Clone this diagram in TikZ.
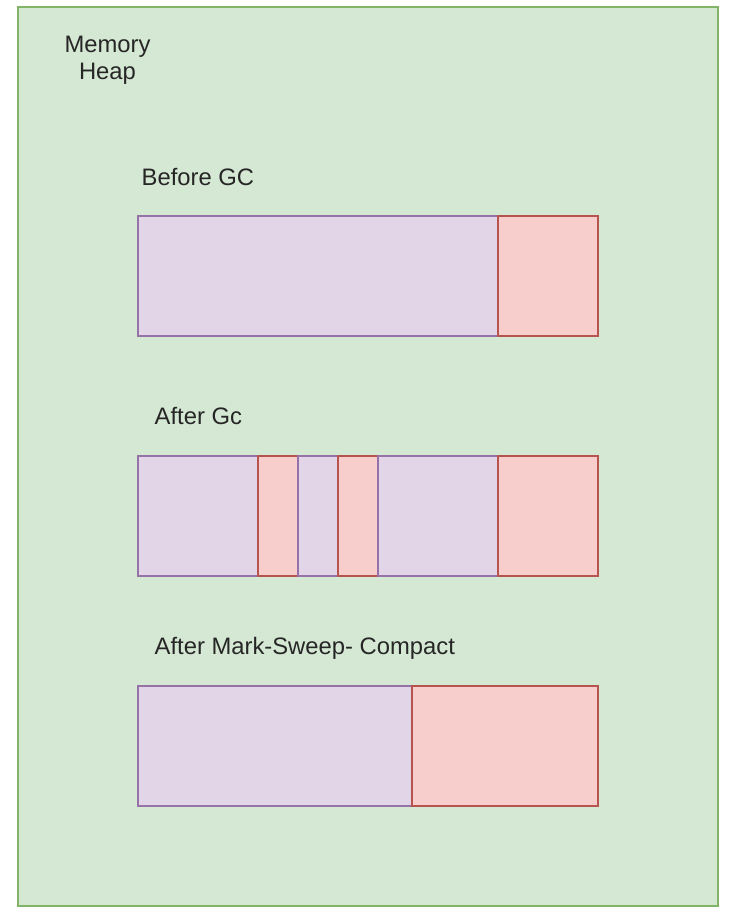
\documentclass[tikz,border=0pt]{standalone}
\usepackage{fontspec}
\setmainfont{Liberation Sans}
\definecolor{heapfill}{HTML}{D5E8D4}
\definecolor{heapline}{HTML}{82B366}
\definecolor{livefill}{HTML}{E1D5E7}
\definecolor{liveline}{HTML}{9673A6}
\definecolor{freefill}{HTML}{F8CECC}
\definecolor{freeline}{HTML}{B85450}
\begin{document}
\begin{tikzpicture}[x=1pt,y=-1pt,
  lbl/.style={inner sep=0pt,font=\fontsize{23.8}{27}\selectfont,text=black!85},
  live/.style={fill=livefill,draw=liveline,line width=2pt},
  free/.style={fill=freefill,draw=freeline,line width=2pt}]
\useasboundingbox (0,0) rectangle (748,924);
\draw[fill=heapfill,draw=heapline,line width=2pt] (17.5,6.5) rectangle (717.5,905.5);
\node[lbl,align=center,anchor=base] (heap) at (107.5,79) {Memory\\Heap};
% Before GC
\node[lbl,anchor=base west] (before) at (141.5,185.5) {Before GC};
\path[live] (138,216) rectangle (498,336);
\path[free] (498,216) rectangle (598,336);
% After Gc
\node[lbl,anchor=base west] (after) at (154.5,424.5) {After Gc};
\path[live] (138,456) rectangle (258,576);
\path[free] (258,456) rectangle (298,576);
\path[live] (298,456) rectangle (338,576);
\path[free] (338,456) rectangle (378,576);
\path[live] (378,456) rectangle (498,576);
\path[free] (498,456) rectangle (598,576);
% After Mark-Sweep- Compact
\node[lbl,anchor=base west] (compact) at (154.5,654.3) {After Mark-Sweep- Compact};
\path[live] (138,686) rectangle (412,806);
\path[free] (412,686) rectangle (598,806);
\end{tikzpicture}
\end{document}
